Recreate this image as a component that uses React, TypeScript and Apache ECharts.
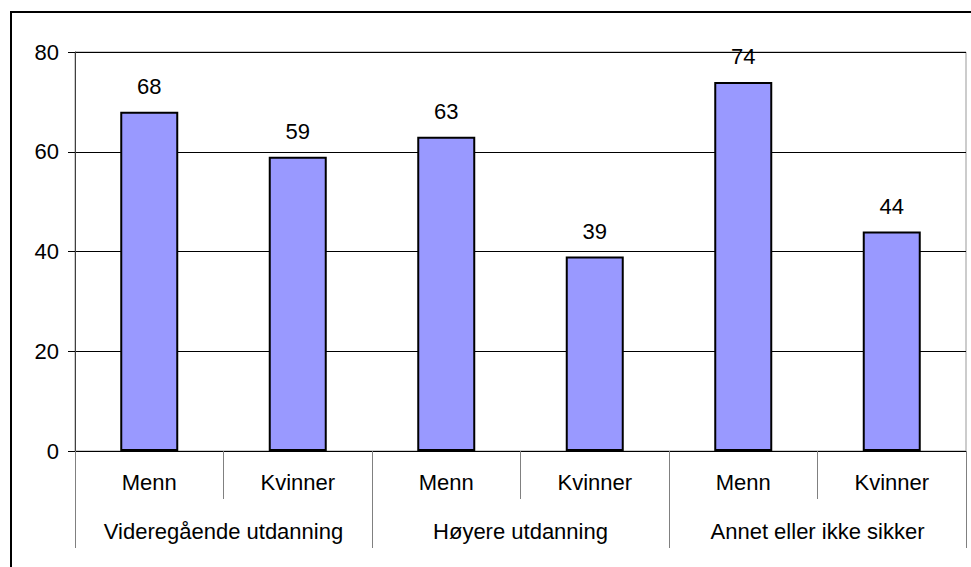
import React, { useEffect, useRef } from "react";
import * as echarts from "echarts";

const subCategories = ["Menn", "Kvinner", "Menn", "Kvinner", "Menn", "Kvinner"];
const groupCategories = ["Videregående utdanning", "Høyere utdanning", "Annet eller ikke sikker"];
const values = [68, 59, 63, 39, 74, 44];

const FONT = "'Liberation Sans', Arial, sans-serif";

export default function App() {
  const ref = useRef<HTMLDivElement>(null);
  useEffect(() => {
    if (!ref.current) return;
    const chart = echarts.init(ref.current, undefined, { renderer: "svg" });
    chart.setOption({
      animation: false,
      backgroundColor: "#fff",
      textStyle: { fontFamily: FONT },
      graphic: [
        {
          type: "rect",
          shape: { x: 11, y: 12, width: 1200, height: 1200 },
          style: { fill: "none", stroke: "#000", lineWidth: 2 },
          silent: true,
          z: 100,
        },
      ],
      grid: {
        left: 75,
        right: 5,
        top: 52,
        bottom: 116,
        show: true,
        borderColor: "#999",
        borderWidth: 1,
        backgroundColor: "transparent",
      },
      xAxis: [
        {
          type: "category",
          data: subCategories,
          position: "bottom",
          axisLine: { show: true, lineStyle: { color: "#000", width: 1 } },
          axisTick: { show: true, interval: 0, length: 48, lineStyle: { color: "#808080" } },
          axisLabel: { interval: 0, margin: 20, fontSize: 22, color: "#000", fontFamily: FONT },
          splitLine: { show: false },
        },
        {
          type: "category",
          data: groupCategories,
          position: "bottom",
          axisLine: { show: false },
          axisTick: { show: true, interval: 0, length: 97, lineStyle: { color: "#808080" } },
          axisLabel: { interval: 0, margin: 69, fontSize: 22, color: "#000", fontFamily: FONT },
          splitLine: { show: false },
        },
      ],
      yAxis: {
        type: "value",
        min: 0,
        max: 80,
        interval: 20,
        axisLine: { show: true, lineStyle: { color: "#404040", width: 1 } },
        axisTick: { show: true, length: 7, lineStyle: { color: "#000" } },
        axisLabel: { margin: 16, fontSize: 22, color: "#000", fontFamily: FONT },
        splitLine: { show: true, lineStyle: { color: "#000", width: 1 } },
      },
      series: [
        {
          type: "bar",
          xAxisIndex: 0,
          data: values,
          barWidth: 58,
          itemStyle: { color: "#9999FF", borderColor: "#000", borderWidth: 2 },
          label: {
            show: true,
            position: "top",
            distance: 14,
            fontSize: 22,
            color: "#000",
            fontFamily: FONT,
          },
        },
      ],
    });
    return () => chart.dispose();
  }, []);
  return <div ref={ref} style={{ width: 971, height: 567, position: "absolute", left: 0, top: 0 }} />;
}
